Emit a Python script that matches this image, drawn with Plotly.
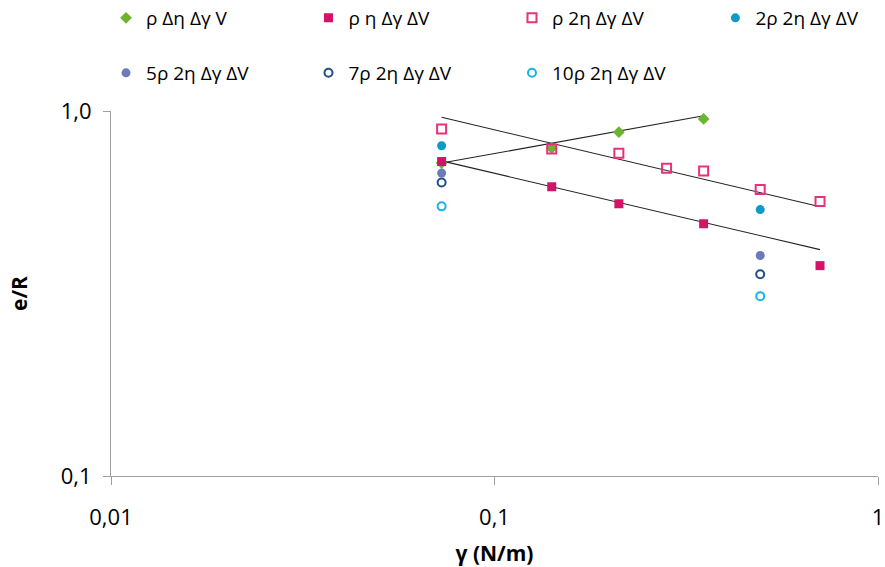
import plotly.graph_objects as go

# Data (gamma in N/m, e/R)
names = ["ρ Δη Δγ V", "ρ η Δγ ΔV", "ρ 2η Δγ ΔV", "2ρ 2η Δγ ΔV",
         "5ρ 2η Δγ ΔV", "7ρ 2η Δγ ΔV", "10ρ 2η Δγ ΔV"]

x_green = [0.0728, 0.141, 0.211, 0.351]
y_green = [0.72, 0.791, 0.875, 0.951]

x_mag = [0.0728, 0.141, 0.211, 0.351, 0.706]
y_mag = [0.727, 0.620, 0.557, 0.491, 0.377]

x_pink = [0.0728, 0.141, 0.211, 0.281, 0.351, 0.493, 0.706]
y_pink = [0.893, 0.787, 0.766, 0.697, 0.685, 0.609, 0.565]

x_2rho = [0.0728, 0.493]
y_2rho = [0.803, 0.537]

x_5rho = [0.0728, 0.493]
y_5rho = [0.676, 0.402]

x_7rho = [0.0728, 0.493]
y_7rho = [0.637, 0.357]

x_10rho = [0.0728, 0.493]
y_10rho = [0.548, 0.311]

# trend lines (power laws, endpoints)
trend_green_x = [0.0728, 0.351]
trend_green_y = [0.720, 0.970]
trend_mag_x = [0.0728, 0.706]
trend_mag_y = [0.730, 0.417]
trend_pink_x = [0.0728, 0.689]
trend_pink_y = [0.961, 0.550]

x_ticks = [0.01, 0.1, 1]
x_ticktext = ["0,01", "0,1", "1"]
y_ticks = [0.1, 1]
y_ticktext = ["0,1", "1,0"]

FONT = "Open Sans, sans-serif"

fig = go.Figure()

series = [
    (x_green, y_green, dict(symbol="diamond", size=9, color="#6AB42F")),
    (x_mag, y_mag, dict(symbol="square", size=9, color="#D0146A")),
    (x_pink, y_pink, dict(symbol="square-open", size=9, color="#E8307C", line=dict(width=2))),
    (x_2rho, y_2rho, dict(symbol="circle", size=9, color="#0C9AC8")),
    (x_5rho, y_5rho, dict(symbol="circle", size=9, color="#6A7BB8")),
    (x_7rho, y_7rho, dict(symbol="circle-open", size=8, color="#1F4E8A", line=dict(width=2))),
    (x_10rho, y_10rho, dict(symbol="circle-open", size=8, color="#1CB4E6", line=dict(width=2))),
]

for xs, ys in [(trend_green_x, trend_green_y), (trend_mag_x, trend_mag_y),
               (trend_pink_x, trend_pink_y)]:
    fig.add_trace(go.Scatter(x=xs, y=ys, mode="lines", showlegend=False,
                             line=dict(color="#222222", width=1.1), hoverinfo="skip"))

# legend layout: one single-item legend per series (4 per row, 2 rows)
leg_x = [-0.0065, 0.2575, 0.5228, 0.7880]
leg_y = [0.9683, 0.8713]
legend_layout = {}
for i, ((xs, ys, mk), nm) in enumerate(zip(series, names)):
    lid = "legend" if i == 0 else f"legend{i + 1}"
    fig.add_trace(go.Scatter(x=xs, y=ys, mode="markers", name=nm, marker=mk, legend=lid))
    legend_layout[lid] = dict(
        orientation="h", xref="paper", yref="container",
        x=leg_x[i % 4], xanchor="left", y=leg_y[i // 4], yanchor="middle",
        font=dict(size=19, family=FONT), itemsizing="trace",
        bgcolor="rgba(0,0,0,0)")

fig.update_layout(
    width=885, height=567,
    paper_bgcolor="white", plot_bgcolor="white",
    margin=dict(l=111, r=7, t=111, b=91),
    font=dict(family=FONT, size=22, color="#000000"),
    xaxis=dict(type="log", range=[-2, 0], tickvals=x_ticks, ticktext=x_ticktext,
               showgrid=False, zeroline=False, showline=True, linecolor="#A0A0A0",
               linewidth=1, ticks="outside", ticklen=8, tickcolor="#A0A0A0",
               ticklabelstandoff=14, automargin=False,
               title=dict(text="<b>γ (N/m)</b>", standoff=20, font=dict(size=21))),
    yaxis=dict(type="log", range=[-1, 0], tickvals=y_ticks, ticktext=y_ticktext,
               showgrid=False, zeroline=False, showline=True, linecolor="#A0A0A0",
               linewidth=1, ticks="outside", ticklen=7, tickcolor="#A0A0A0",
               ticklabelstandoff=7, automargin=False,
               title=dict(text="<b>e/R</b>", standoff=27, font=dict(size=21))),
    **legend_layout,
)

fig.write_html("out.html", config={"displayModeBar": False},
               post_script="document.body.style.margin='0px';")
